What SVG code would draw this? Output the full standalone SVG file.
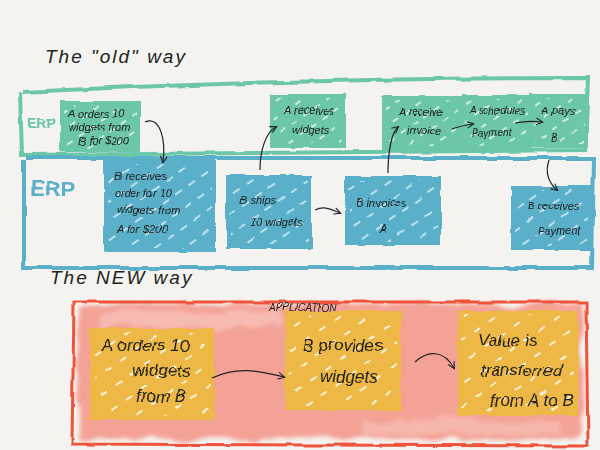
<svg xmlns="http://www.w3.org/2000/svg" width="600" height="450" viewBox="0 0 600 450">
<defs>
<filter id="rough" x="-5%" y="-5%" width="110%" height="110%">
<feTurbulence type="fractalNoise" baseFrequency="0.04" numOctaves="2" seed="3"/>
<feDisplacementMap in="SourceGraphic" scale="4" xChannelSelector="R" yChannelSelector="G"/>
</filter>
<filter id="wash" x="-5%" y="-5%" width="110%" height="110%">
<feTurbulence type="fractalNoise" baseFrequency="0.03" numOctaves="3" seed="7"/>
<feDisplacementMap in="SourceGraphic" scale="14" xChannelSelector="R" yChannelSelector="G"/>
<feGaussianBlur stdDeviation="2"/>
</filter>
<pattern id="hatchG" width="14" height="14" patternUnits="userSpaceOnUse" patternTransform="rotate(-35)">
<rect width="14" height="14" fill="#6cc6a8"/>
<line x1="0" y1="3" x2="6" y2="3" stroke="#e8f5ef" stroke-width="1.6"/>
</pattern>
<pattern id="hatchB" width="16" height="16" patternUnits="userSpaceOnUse" patternTransform="rotate(-35)">
<rect width="16" height="16" fill="#5aafc9"/>
<line x1="0" y1="4" x2="8" y2="4" stroke="#d8eef5" stroke-width="1.6"/>
</pattern>
<pattern id="hatchY" width="18" height="18" patternUnits="userSpaceOnUse" patternTransform="rotate(-35)">
<rect width="18" height="18" fill="#edb845"/>
<line x1="0" y1="4" x2="7" y2="4" stroke="#fbf0d6" stroke-width="2"/>
</pattern>
<marker id="ah" viewBox="0 0 10 10" refX="8" refY="5" markerWidth="7" markerHeight="7" orient="auto-start-reverse">
<path d="M1,1 L9,5 L1,9" fill="none" stroke="#222" stroke-width="1.3"/>
</marker>
</defs>
<style>
.t{font-family:"Liberation Sans",Arial,sans-serif;fill:#222;font-style:italic}
.s{font-size:11px}
.x{font-size:10px}
.b{font-size:17px}
.h{font-size:19px;letter-spacing:2px}
.gb{fill:none;stroke:#6cc6a8;stroke-width:4}
.bb{fill:none;stroke:#5aafc9;stroke-width:4}
.gn{fill:url(#hatchG);stroke:#6cc6a8;stroke-width:4}
.bn{fill:url(#hatchB);stroke:#5aafc9;stroke-width:4}
.yn{fill:url(#hatchY);stroke:#edb845;stroke-width:4}
.c{fill:none;stroke:#222;stroke-width:1.2;marker-end:url(#ah)}
</style>
<rect width="600" height="450" fill="#f4f3ef"/>

<text class="t h" x="45" y="63">The "old" way</text>
<text class="t h" x="50" y="284">The NEW way</text>

<g id="old-erp-a" filter="url(#rough)">
<path class="gb" d="M20,93 L22,155 L585,150 L588,78 Q300,78 22,92"/>
<text x="27" y="128" font-family="Liberation Sans,Arial,sans-serif" font-weight="bold" font-size="14" fill="#6cc6a8">ERP</text>
</g>
<g id="old-erp-b" filter="url(#rough)">
<path class="bb" d="M24,160 L24,268 L592,268 L594,158 L26,158"/>
<text x="30" y="196" font-family="Liberation Sans,Arial,sans-serif" font-weight="bold" font-size="22" fill="#5aafc9">ERP</text>
</g>

<g id="a1" filter="url(#rough)">
<rect class="gn" x="62" y="103" width="76" height="47"/>
<text class="t s" x="68" y="117">A orders 10</text>
<text class="t s" x="68" y="131">widgets from</text>
<text class="t s" x="78" y="145">B for $200</text>
</g>
<g id="a2" filter="url(#rough)">
<rect class="gn" x="272" y="96" width="72" height="50"/>
<text class="t s" x="284" y="114">A receives</text>
<text class="t s" x="292" y="134">widgets</text>
</g>
<g id="a3" filter="url(#rough)">
<rect class="gn" x="384" y="98" width="76" height="50"/>
<text class="t s" x="398" y="115">A receive</text>
<text class="t s" x="407" y="135">invoice</text>
</g>
<g id="a4" filter="url(#rough)">
<rect class="gn" x="463" y="97" width="66" height="51"/>
<text class="t x" x="470" y="114">A schedules</text>
<text class="t x" x="472" y="136">Payment</text>
</g>
<g id="a5" filter="url(#rough)">
<rect class="gn" x="532" y="96" width="54" height="50"/>
<text class="t s" x="542" y="115">A pays</text>
<text class="t s" x="550" y="141">B</text>
</g>

<g id="b1" filter="url(#rough)">
<rect class="bn" x="106" y="162" width="108" height="88"/>
<text class="t s" x="115" y="180">B receives</text>
<text class="t s" x="115" y="197">order for 10</text>
<text class="t s" x="117" y="214">widgets from</text>
<text class="t s" x="117" y="233">A for $200</text>
</g>
<g id="b2" filter="url(#rough)">
<rect class="bn" x="228" y="177" width="82" height="70"/>
<text class="t s" x="240" y="204">B ships</text>
<text class="t s" x="250" y="226">10 widgets</text>
</g>
<g id="b3" filter="url(#rough)">
<rect class="bn" x="347" y="178" width="92" height="65"/>
<text class="t s" x="356" y="207">B invoices</text>
<text class="t s" x="380" y="233">A</text>
</g>
<g id="b4" filter="url(#rough)">
<rect class="bn" x="513" y="188" width="77" height="60"/>
<text class="t s" x="528" y="210">B receives</text>
<text class="t s" x="537" y="234">Payment</text>
</g>

<g id="application" filter="url(#wash)">
<rect x="78" y="304" width="506" height="135" fill="#f59486" opacity="0.85"/>
<rect x="100" y="312" width="180" height="16" fill="#f9c7bd" opacity="0.7"/>
<rect x="360" y="420" width="200" height="14" fill="#f9c7bd" opacity="0.6"/>
</g>
<g id="app-frame" filter="url(#rough)">
<path d="M74,302 L72,444 L588,446 L586,302 Z" fill="none" stroke="#f0533b" stroke-width="3"/>
<text class="t" x="270" y="311" font-size="10">APPLICATION</text>
</g>

<g id="n1" filter="url(#rough)">
<rect class="yn" x="92" y="330" width="120" height="88"/>
<text class="t b" x="102" y="351">A orders 10</text>
<text class="t b" x="133" y="376">widgets</text>
<text class="t b" x="136" y="402">from B</text>
</g>
<g id="n2" filter="url(#rough)">
<rect class="yn" x="287" y="313" width="112" height="95"/>
<text class="t b" x="303" y="351">B provides</text>
<text class="t b" x="320" y="382">widgets</text>
</g>
<g id="n3" filter="url(#rough)">
<rect class="yn" x="460" y="313" width="116" height="100"/>
<text class="t b" x="478" y="346">Value is</text>
<text class="t b" x="480" y="376">transferred</text>
<text class="t b" x="490" y="406">from A to B</text>
</g>

<g id="connectors">
<path class="c" d="M145,122 C160,115 166,140 163,162"/>
<path class="c" d="M260,170 C260,150 266,132 276,127"/>
<path class="c" d="M315,210 C325,205 332,210 340,213"/>
<path class="c" d="M388,173 C388,150 392,132 398,127"/>
<path class="c" d="M452,129 C460,126 466,125 473,124"/>
<path class="c" d="M515,123 C525,121 533,121 542,122"/>
<path class="c" d="M549,160 C545,172 548,182 557,190"/>
<path class="c" d="M212,378 C240,365 262,372 284,377"/>
<path class="c" d="M415,362 C428,350 444,350 454,368"/>
</g>
</svg>
